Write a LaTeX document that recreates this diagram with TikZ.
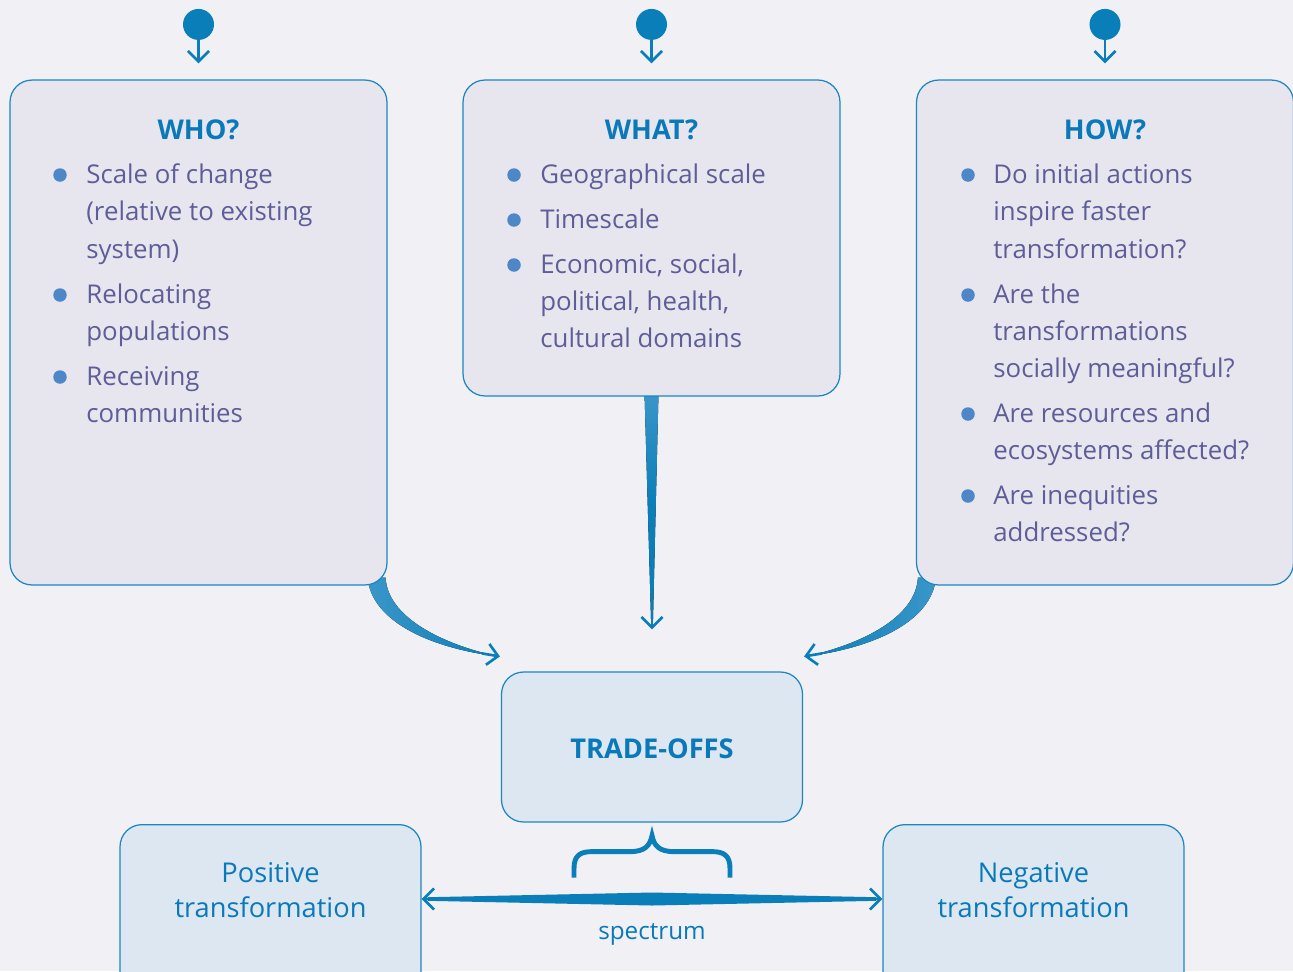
\documentclass[tikz,border=0pt]{standalone}
\usepackage{fontspec}
\setmainfont{Open Sans}
\usetikzlibrary{arrows.meta,calc,positioning}

\definecolor{bgcol}{HTML}{F0F0F5}
\definecolor{boxfill}{HTML}{E7E6EE}
\definecolor{boxline}{HTML}{1B86C2}
\definecolor{titleblue}{HTML}{0A79B9}
\definecolor{itemtext}{HTML}{5E5D98}
\definecolor{dotblue}{HTML}{4E87C7}
\definecolor{lowfill}{HTML}{DCE7F2}
\definecolor{arrblue}{HTML}{097EB9}
\definecolor{arrlight}{HTML}{3A96C9}

\pgfdeclarelayer{bg}
\pgfdeclarelayer{arrowlayer}
\pgfsetlayers{bg,arrowlayer,main}

\tikzset{
  topbox/.style={draw=boxline, fill=boxfill, line width=0.7pt, rounded corners=0.44cm, minimum width=7.54cm, inner sep=0pt},
  lowbox/.style={draw=boxline, fill=lowfill, line width=0.7pt, rounded corners=0.44cm, minimum width=6.02cm, inner sep=0pt},
  boxtitle/.style={font=\fontsize{15.5}{18}\selectfont\bfseries, text=titleblue, inner sep=0pt},
  itemline/.style={font=\fontsize{14.7}{21}\selectfont, text=itemtext, anchor=west, inner sep=0pt, text height=11pt, text depth=3pt},
  lowtext/.style={font=\fontsize{15.5}{20}\selectfont, text=titleblue, inner sep=0pt, text height=11.5pt, text depth=3pt},
  itemdot/.style={circle, fill=dotblue, minimum size=0.27cm, inner sep=0pt},
  pindot/.style={circle, fill=arrblue, minimum size=0.62cm, inner sep=0pt},
  barb/.style={-{Straight Barb[length=6pt,width=12pt]}, line width=1.5pt, draw=arrblue},
  bracestyle/.style={draw=arrblue, line width=2.8pt}
}

\begin{document}
\begin{tikzpicture}[x=0.02cm,y=-0.02cm]
\begin{pgfonlayer}{bg}
  \fill[bgcol] (0,0) rectangle (1293,971);
\end{pgfonlayer}
\useasboundingbox (0,0) rectangle (1293,971);
\clip (0,0) rectangle (1293,971);

% boxes
\node[topbox, minimum height=10.1cm] (who) at (198.5,332.5) {};
\node[topbox, minimum height=6.32cm] (what) at (651.5,238) {};
\node[topbox, minimum height=10.1cm] (how) at (1105,332.5) {};
\node[lowbox, minimum height=3cm] (trade) at (652,747) {};
\node[lowbox, minimum height=4cm, anchor=north] (pos) at (270.5,824) {};
\node[lowbox, minimum height=4cm, anchor=north] (neg) at (1033.5,824) {};

% titles
\node[boxtitle] (whot) at (198.5,130) {WHO?};
\node[boxtitle] (whatt) at (651.5,130) {WHAT?};
\node[boxtitle] (howt) at (1105,130) {HOW?};
\node[boxtitle] (tradet) at ($(trade.center)+(0,2)$) {TRADE-OFFS};

% items
\foreach \y/\t [count=\i] in {176/Scale of change, 213/(relative to existing, 251/system),
    296/Relocating, 333/populations, 378/Receiving, 415/communities}
  \node[itemline] (who\i) at (86,\y) {\t};
\foreach \y in {175,295,377}
  \node[itemdot] (whod\y) at (60,\y) {};

\foreach \y/\t [count=\i] in {176/Geographical scale, 221/Timescale, 266/{Economic, social,},
    303/{political, health,}, 340/cultural domains}
  \node[itemline] (what\i) at (540,\y) {\t};
\foreach \y in {175,220,265}
  \node[itemdot] (whatd\y) at (514,\y) {};

\foreach \y/\t [count=\i] in {176/Do initial actions, 213/inspire faster, 251/transformation?,
    296/Are the, 333/transformations, 370/socially meaningful?, 415/Are resources and,
    452/ecosystems affected?, 497/Are inequities, 534/addressed?}
  \node[itemline] (how\i) at (993,\y) {\t};
\foreach \y in {175,295,414,496}
  \node[itemdot] (howd\y) at (968,\y) {};

% bottom texts
\node[lowtext] (pos1) at ($(pos.north)+(0,51)$) {Positive};
\node[lowtext] (pos2) at ($(pos.north)+(0,86)$) {transformation};
\node[lowtext] (neg1) at ($(neg.north)+(0,51)$) {Negative};
\node[lowtext] (neg2) at ($(neg.north)+(0,86)$) {transformation};

% pins
\foreach \b in {who,what,how} {
  \node[pindot] (\b p) at ($(\b.north)+(0,-55)$) {};
  \draw[barb] (\b p.center) -- ($(\b.north)+(0,-16)$);
}

% tapered arrows into trade-offs
\coordinate (ws1) at ($(who.south east)+(-20,-8)$);
\coordinate (ws2) at ($(who.south east)+(-2,-8)$);
\coordinate (wt) at ($(trade.north west)+(-3,-15)$);
\coordinate (hs1) at ($(how.south west)+(20,-8)$);
\coordinate (hs2) at ($(how.south west)+(2,-8)$);
\coordinate (ht) at ($(trade.north east)+(3,-15)$);
\coordinate (ma) at (what.south);
\coordinate (mt) at ($(trade.north)+(0,-42)$);
\begin{pgfonlayer}{arrowlayer}
  \fill[left color=arrlight, right color=arrblue]
    (ws1) .. controls +(4,45) and +(-65,-8) .. (wt)
          .. controls +(-55,-12) and +(2,40) .. (ws2) -- cycle;
  \fill[left color=arrblue, right color=arrlight]
    (hs1) .. controls +(-4,45) and +(65,-8) .. (ht)
          .. controls +(55,-12) and +(-2,40) .. (hs2) -- cycle;
  \fill[top color=arrlight, bottom color=arrblue, middle color=arrblue]
    ($(ma)+(-7,-4)$) -- ($(ma)+(7,-4)$) -- ($(mt)+(1,-10)$) -- ($(mt)+(-1,-10)$) -- cycle;
\end{pgfonlayer}
\draw[barb] ($(wt)+(-16,-3)$) -- ($(wt)+(2,0)$);
\draw[barb] ($(ht)+(16,-3)$) -- ($(ht)+(-2,0)$);
\draw[barb] ($(mt)+(0,-16)$) -- (mt);

% spectrum
\coordinate (sl) at ($(pos.north east)+(0,75)$);
\coordinate (sr) at ($(neg.north west)+(0,75)$);
\coordinate (sm) at ($(sl)!0.5!(sr)$);
\fill[arrblue] ($(sl)+(6,-1.8)$) -- ($(sm)+(0,-6.5)$) -- ($(sr)+(-6,-1.8)$)
  -- ($(sr)+(-6,1.8)$) -- ($(sm)+(0,6.5)$) -- ($(sl)+(6,1.8)$) -- cycle;
\draw[barb] ($(sl)+(16,0)$) -- (sl);
\draw[barb] ($(sr)+(-16,0)$) -- (sr);
\node[font=\fontsize{13.8}{16}\selectfont, text=titleblue, inner sep=0pt] (spec) at ($(sm)+(0,35)$) {spectrum};

% brace
\coordinate (bc) at ($(trade.south)+(0,13)$);
\begin{scope}[shift={(bc)}]
  \draw[bracestyle] (-78,42) -- (-78,33) .. controls (-78,20) and (-72,16) .. (-60,16) -- (-22,16)
    .. controls (-7,16) and (-2,10) .. (0,0) .. controls (2,10) and (7,16) .. (22,16) -- (60,16)
    .. controls (72,16) and (78,20) .. (78,33) -- (78,42);
\end{scope}
\end{tikzpicture}
\end{document}
